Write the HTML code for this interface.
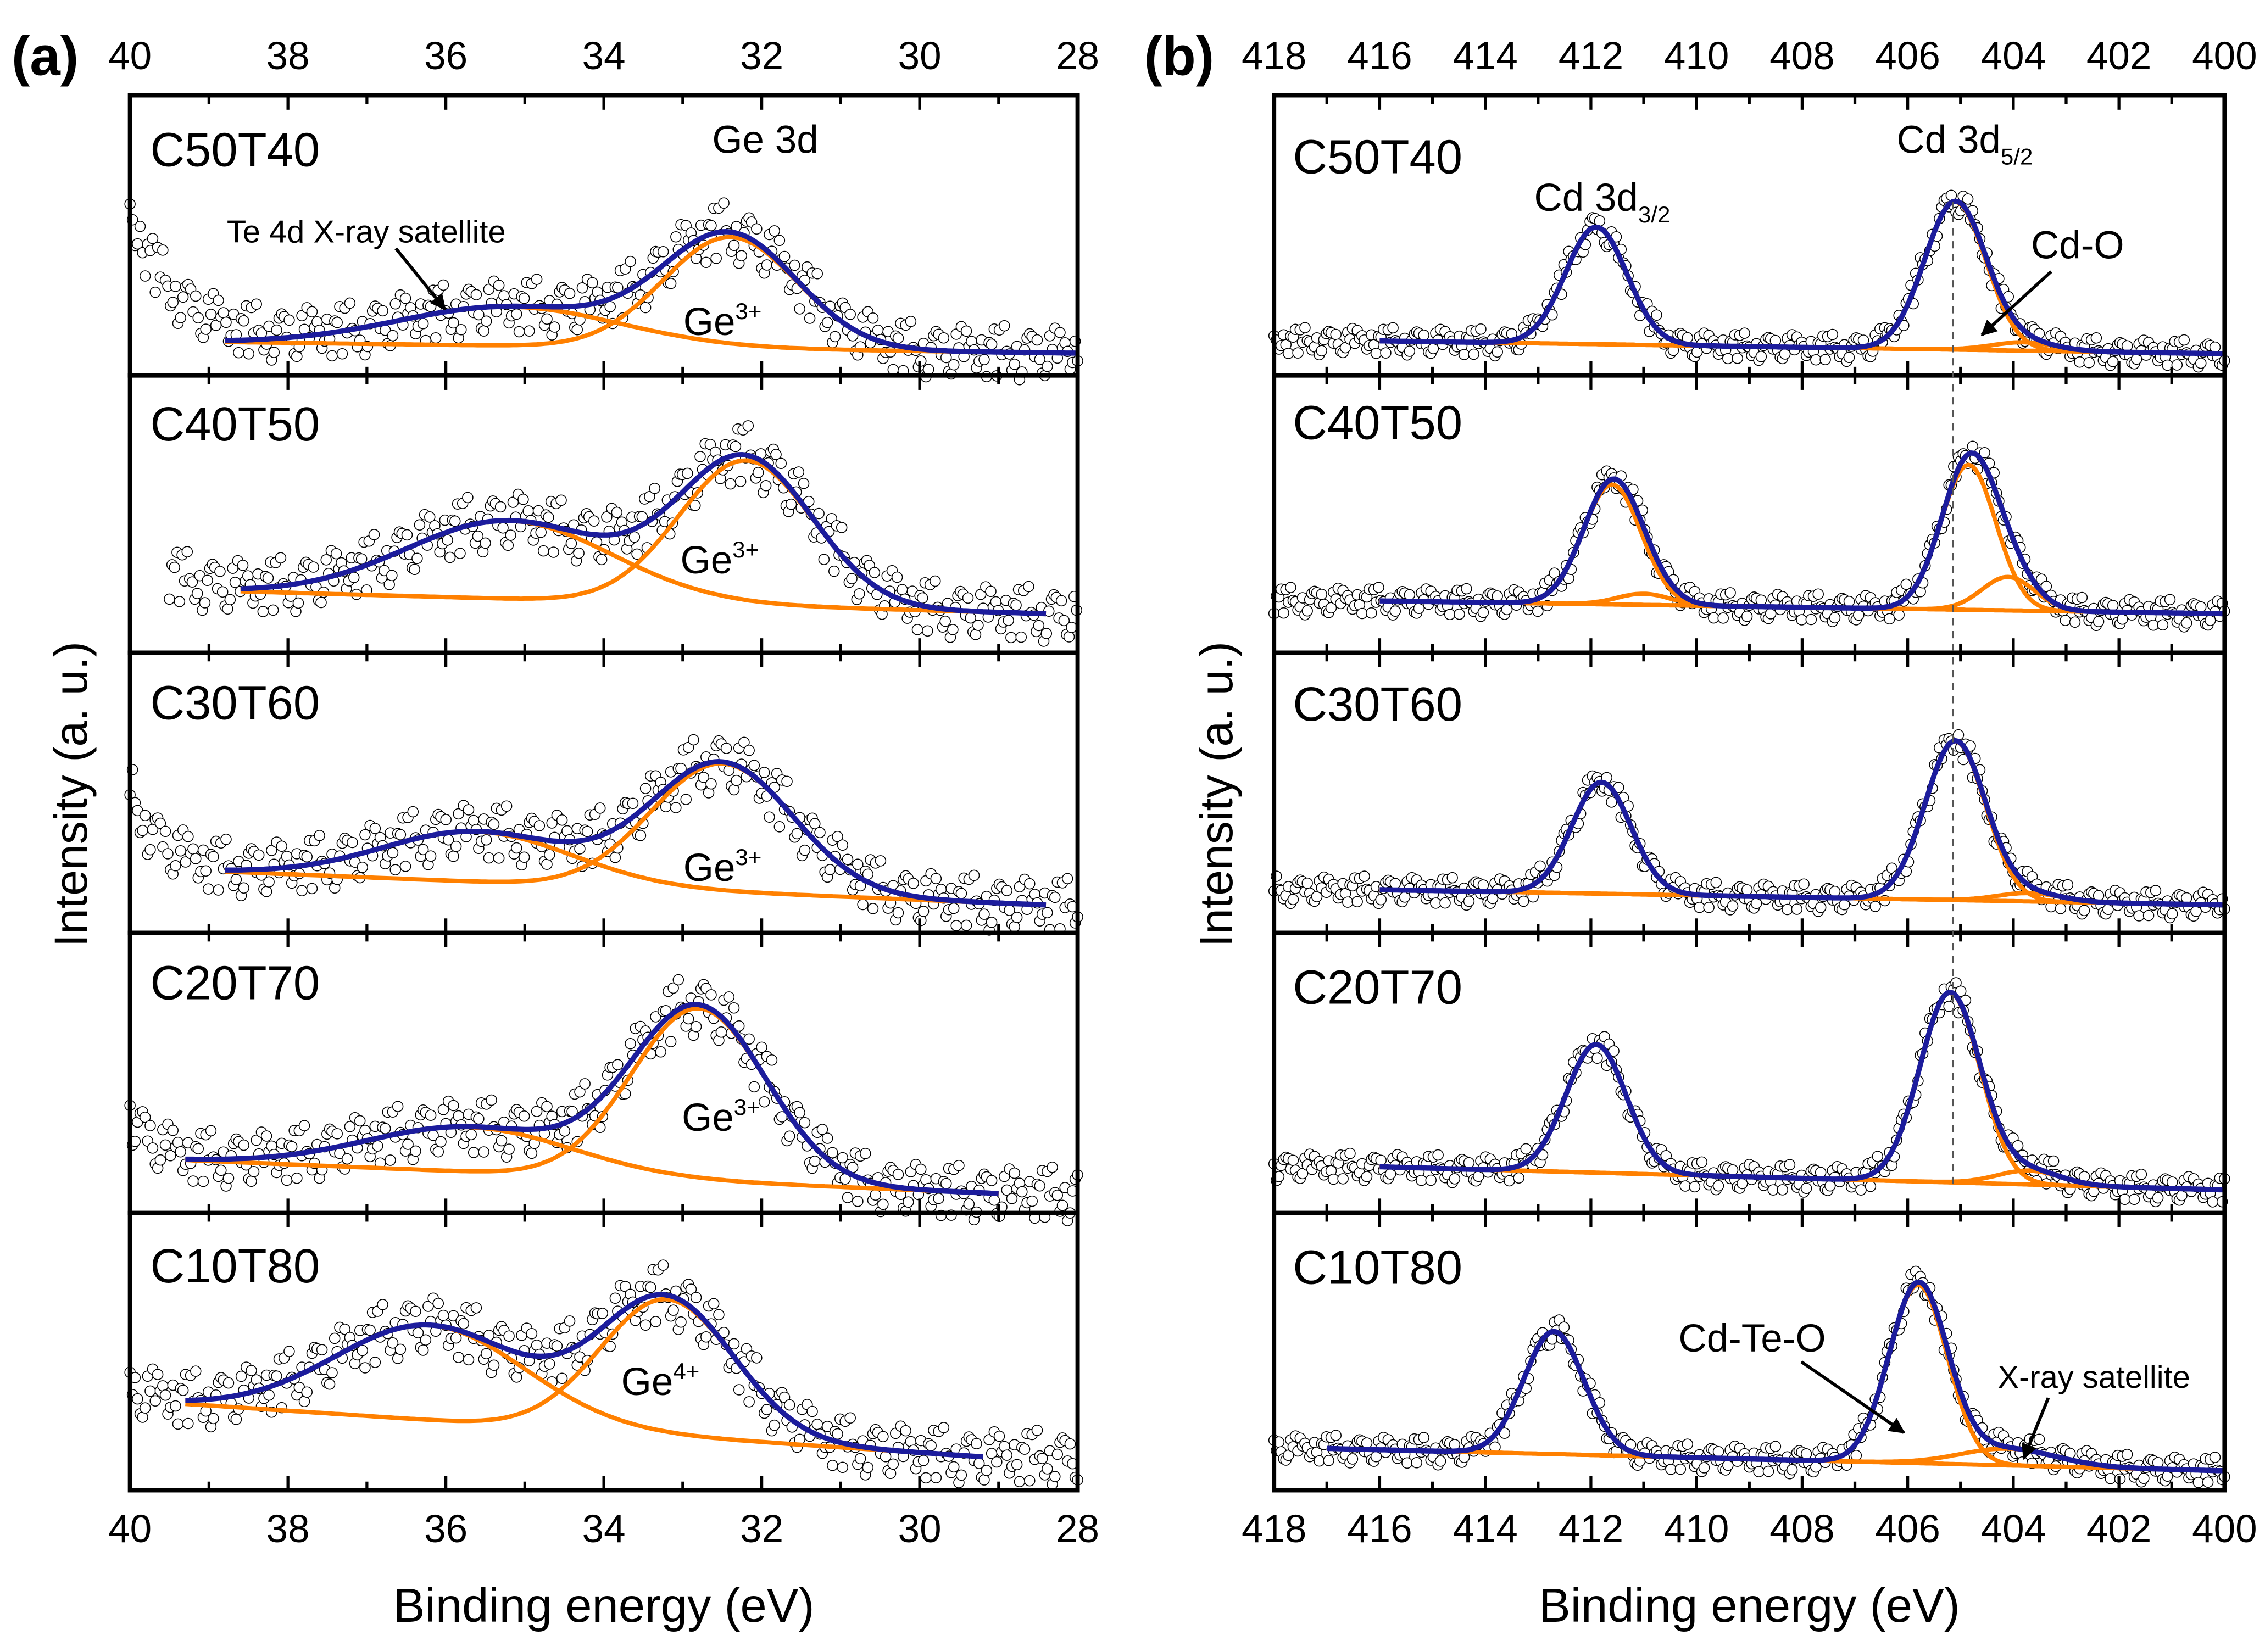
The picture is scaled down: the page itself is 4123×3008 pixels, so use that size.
<!DOCTYPE html>
<html><head><meta charset="utf-8"><style>
html,body{margin:0;padding:0;background:#fff;}
svg{display:block;font-family:"Liberation Sans",Arial,sans-serif;}
</style></head><body>
<svg id="fig" width="4123" height="3008" viewBox="0 0 1568 1144" preserveAspectRatio="none" xmlns="http://www.w3.org/2000/svg">
<defs><marker id="ah" viewBox="0 0 10 10" refX="9" refY="5" markerWidth="5" markerHeight="5" orient="auto"><path d="M0,0 L10,5 L0,10 z" fill="#000"/></marker></defs>
<g id="root"></g>
</svg>
<script>
// ---- data ----
const panelNames = ["C50T40","C40T50","C30T60","C20T70","C10T80"];
const aTicks = [40,38,36,34,32,30,28];
const bTicks = [418,416,414,412,410,408,406,404,402,400];
// panel (a): fit range, background ends, peaks [center, amp, sigma]
const aFitRange = [[38.8,28],[38.6,28.4],[38.8,28.4],[39.3,29],[39.3,29.2]];
const aBg = [[12,8],[22,14],[22,10],[19,7],[31,12]];
const aMainPeak = [[32.4,40,0.85],[32.2,52,0.85],[32.5,46,0.9],[32.8,62,0.85],[33.2,49,0.85]];
const aSatPeak = [[35.2,14,1.4],[35.2,28,1.3],[35.6,18,1.2],[35.7,16,1.3],[36.2,34,1.2]];
const aTail = [[45,0.6],[15,0.5],[28,0.4],[17,0.3],[4,0.4]];
const aDataStart = [40,39.5,40,40,40];
// panel (b)
const bFitRange = [[416,400],[416,400],[416,400],[416,400],[417,400]];
const bBg = [[12.4,7.8],[18.6,14],[15.5,10],[16.6,8.3],[15,7]];
const b32Peak = [[411.9,42,0.58],[411.6,43,0.55],[411.8,40,0.56],[411.9,46,0.57],[412.7,44,0.57]];
const b52Peak = [[405.1,53,0.58],[404.85,52,0.52],[405.1,57,0.57],[405.2,68,0.57],[405.8,64,0.55]];
const bExtraPeak = [[403.8,3,0.6],[404.1,12,0.5],[403.7,3,0.6],[403.7,5,0.6],[404.1,6,0.9]];
const bSmall32 = [0,4,0,0,0];
const noise = [1.2,-2.1,0.4,2.6,-0.8,-2.9,1.7,0.2,-1.4,2.9,-0.3,-2.4,1.1,2.2,-1.9,0.7,-0.6,3.1,-2.7,0.9,1.9,-1.1,-3.2,2.4,0.1,-1.6,2.7,-0.5,1.4,-2.3,0.6,-0.2,2.0,-2.8,1.5,-0.9,0.3];

// ---- layout ----
const NS="http://www.w3.org/2000/svg";
const root=document.getElementById('root');
const panelTops=[66,260,452,646,840], panelBots=[260,452,646,840,1032];
const A={l:90,r:746,e0:40,e1:28}, B={l:882,r:1540,e0:418,e1:400};
function mk(tag,attrs,parent){const e=document.createElementNS(NS,tag);for(const k in attrs)e.setAttribute(k,attrs[k]);(parent||root).appendChild(e);return e;}
function xs(ax,e){return ax.l+(e-ax.e0)/(ax.e1-ax.e0)*(ax.r-ax.l);}
function ys(i,I){return panelBots[i]-I*1.93;}
function g(e,p){const d=(e-p[0])/p[2];return p[1]*Math.exp(-0.5*d*d);}
function bgAt(e,fr,bg){let t=(fr[0]-e)/(fr[0]-fr[1]);t=Math.max(0,Math.min(1,t));return bg[0]+(bg[1]-bg[0])*t;}
function pathFrom(pts){return pts.map((p,k)=>(k?'L':'M')+p[0].toFixed(1)+','+p[1].toFixed(1)).join(' ');}

function drawPanel(ax,i,comps,fr,bg,tailFn,dataStart,noiseAmp){
  const grp=mk('g',{});
  
  
  const sc=mk('g',{fill:'#fff',stroke:'#000','stroke-width':0.6},grp);
  
  
  const step=(ax===A)?0.032:0.045;
  let k=0;
  for(let e=dataStart;e>=ax.e1-0.001;e-=step){
    const ee=Math.max(Math.min(e,fr[0]),fr[1]);
    let I=bgAt(e,fr,bg);comps.forEach(p=>I+=g(ee,p));
    I+=tailFn(e);
    I+=noise[(k*7+i*5)%noise.length]*noiseAmp*(1+0.02*I/10);
    mk('circle',{cx:xs(ax,e).toFixed(1),cy:ys(i,I).toFixed(1),r:3.6},sc);k++;
  }
  comps.forEach((p,ci)=>{
    const pts=[];for(let e=fr[0];e>=fr[1]-1e-6;e-=0.05){pts.push([xs(ax,e),ys(i,bgAt(e,fr,bg)+g(e,p))]);}
    const pa=mk('path',{d:pathFrom(pts),fill:'none',stroke:'#ff8000','stroke-width':3},grp);
    
    
  });
  const pts=[];for(let e=fr[0];e>=fr[1]-1e-6;e-=0.05){let I=bgAt(e,fr,bg);comps.forEach(p=>I+=g(e,p));pts.push([xs(ax,e),ys(i,I)]);}
  const env=mk('path',{d:pathFrom(pts),fill:'none',stroke:'#1c1c9c','stroke-width':3.6},grp);
  
  
}

for(let i=0;i<5;i++){
  drawPanel(A,i,[aMainPeak[i],aSatPeak[i]],aFitRange[i],aBg[i],
    e=>e>aFitRange[i][0]-1.5?aTail[i][0]*Math.exp(-(40-e)/aTail[i][1]):0,aDataStart[i],3.0);
  const comps=[b32Peak[i],b52Peak[i],bExtraPeak[i]];
  if(bSmall32[i])comps.push([411.0,bSmall32[i],0.5]);
  drawPanel(B,i,comps,bFitRange[i],bBg[i],e=>0,418,1.5);
}

function frame(ax,name){
  const fg=mk('g',{});
  
  
  for(let i=0;i<5;i++){
    mk('rect',{x:ax.l,y:panelTops[i],width:ax.r-ax.l,height:panelBots[i]-panelTops[i],fill:'none',stroke:'#000','stroke-width':3},fg);
    const lo=Math.min(ax.e0,ax.e1),hi=Math.max(ax.e0,ax.e1);
    for(let e=lo;e<=hi;e++){
      const major=(e%2===0);const L=major?10:6;const x=xs(ax,e);
      mk('line',{x1:x,x2:x,y1:panelTops[i],y2:panelTops[i]+L,stroke:'#000','stroke-width':2},fg);
      mk('line',{x1:x,x2:x,y1:panelBots[i],y2:panelBots[i]-L,stroke:'#000','stroke-width':2},fg);
    }
  }
}
frame(A,'frame-a');frame(B,'frame-b');

function txt(x,y,s,opts,name){
  const t=mk('text',Object.assign({x:x,y:y,'font-size':26,fill:'#000'},opts||{}));
  t.innerHTML=s;
  
  
  return t;
}
aTicks.forEach(v=>{txt(xs(A,v),48,v,{'text-anchor':'middle','font-size':27},'top-tick-a');txt(xs(A,v),1068,v,{'text-anchor':'middle','font-size':27},'bottom-tick-a');});
bTicks.forEach(v=>{txt(xs(B,v),48,v,{'text-anchor':'middle','font-size':27},'top-tick-b');txt(xs(B,v),1068,v,{'text-anchor':'middle','font-size':27},'bottom-tick-b');});
txt(8,52,'(a)',{'font-size':38,'font-weight':'bold'},'panel-a-label');
txt(792,52,'(b)',{'font-size':38,'font-weight':'bold'},'panel-b-label');
txt(418,1123,'Binding energy (eV)',{'text-anchor':'middle','font-size':33},'x-axis-title-a');
txt(1211,1123,'Binding energy (eV)',{'text-anchor':'middle','font-size':33},'x-axis-title-b');
txt(0,0,'Intensity (a. u.)',{'text-anchor':'middle','font-size':32,transform:'translate(60,550) rotate(-90)'},'y-axis-title-a');
txt(0,0,'Intensity (a. u.)',{'text-anchor':'middle','font-size':32,transform:'translate(853,550) rotate(-90)'},'y-axis-title-b');
const aLabY=[115,305,498,692,888], bLabY=[120,304,499,695,889];
panelNames.forEach((n,i)=>{txt(104,aLabY[i],n,{'font-size':33},'sample-label-a');txt(895,bLabY[i],n,{'font-size':33},'sample-label-b');});
txt(493,106,'Ge 3d',{'font-size':27},'ge3d-label');
txt(157,168,'Te 4d X-ray satellite',{'font-size':22},'te4d-satellite-label');
const geLab=[[473,232,'3+'],[471,397,'3+'],[473,610,'3+'],[472,783,'3+'],[430,966,'4+']];
geLab.forEach(p=>txt(p[0],p[1],'Ge<tspan dy="-11" font-size="16">'+p[2]+'</tspan>',{'font-size':27},'ge-state-label'));
txt(1062,146,'Cd 3d<tspan dy="8" font-size="16">3/2</tspan>',{'font-size':27},'cd3d32-label');
txt(1313,106,'Cd 3d<tspan dy="8" font-size="16">5/2</tspan>',{'font-size':27},'cd3d52-label');
txt(1406,179,'Cd-O',{'font-size':27},'cdo-label');
txt(1162,936,'Cd-Te-O',{'font-size':27},'cdteo-label');
txt(1383,961,'X-ray satellite',{'font-size':22},'xray-satellite-label');
function arrow(x1,y1,x2,y2,name){const l=mk('line',{x1:x1,y1:y1,x2:x2,y2:y2,stroke:'#000','stroke-width':2.2,'marker-end':'url(#ah)'});}
arrow(274,172,308,214,'te4d-arrow');
arrow(1420,188,1372,232,'cdo-arrow');
arrow(1247,943,1318,992,'cdteo-arrow');
arrow(1418,968,1401,1010,'xray-satellite-arrow');
const dl=mk('line',{x1:1352,x2:1352,y1:140,y2:820,stroke:'#555','stroke-width':1.5,'stroke-dasharray':'5,4'});


</script>
</body></html>
